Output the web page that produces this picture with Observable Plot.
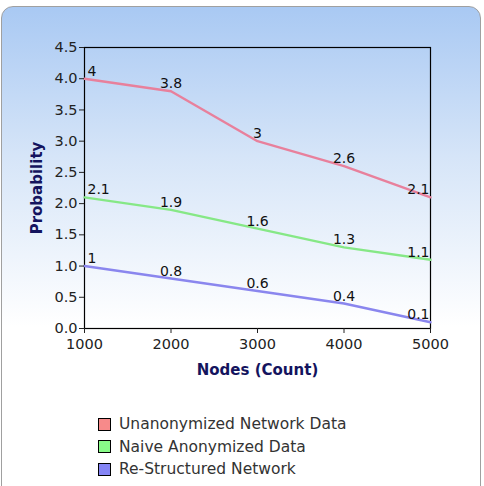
<!DOCTYPE html>
<html><head><meta charset="utf-8">
<script src="https://cdn.jsdelivr.net/npm/d3@7"></script>
<script src="https://cdn.jsdelivr.net/npm/@observablehq/plot@0.6"></script>
<style>
body{margin:0;width:484px;height:486px;overflow:hidden;background:#fff;font-family:"DejaVu Sans",sans-serif;}
#panel{position:absolute;left:1px;top:6px;width:478px;height:490px;border:1px solid #a0a0a0;border-radius:12px;
background:linear-gradient(to bottom,#a9c9f3 0px,#d6e5f8 150px,#ffffff 320px,#ffffff 100%);}
#chart{position:absolute;left:0;top:0;}
#legend{position:absolute;left:98px;top:413px;font-size:15.5px;color:#333;}
.item{display:flex;align-items:center;height:22.5px;}
.sw{width:11px;height:11px;border:1px solid #000;margin-right:8px;}
</style></head>
<body>
<div id="panel"></div>
<div id="chart"></div>
<div id="legend"></div>
<script>
const nodes = [1000, 2000, 3000, 4000, 5000];
const unanonymized = [4, 3.8, 3, 2.6, 2.1];
const naive = [2.1, 1.9, 1.6, 1.3, 1.1];
const restructured = [1, 0.8, 0.6, 0.4, 0.1];
const seriesNames = ["Unanonymized Network Data", "Naive Anonymized Data", "Re-Structured Network"];
const lineColors = ["#e8809c", "#86e886", "#8a86ee"];
const swatchColors = ["#f78a8a", "#88fb88", "#8585f5"];
const yTicks = [0, 0.5, 1, 1.5, 2, 2.5, 3, 3.5, 4, 4.5];

const seriesVals = [unanonymized, naive, restructured];
const data = seriesVals.flatMap((vals, s) => vals.map((v, i) => ({series: seriesNames[s], x: nodes[i], y: v, i})));

const marks = [
  Plot.frame({stroke: "#000", strokeWidth: 1.2}),
];
seriesNames.forEach((name, s) => {
  const d = data.filter(r => r.series === name);
  marks.push(Plot.line(d, {x: "x", y: "y", stroke: lineColors[s], strokeWidth: 2.4, curve: "linear", strokeLinejoin: "round"}));
  const common = {x: "x", y: "y", text: r => String(r.y), lineAnchor: "bottom", dy: -3, fill: "#111", fontSize: 14};
  marks.push(Plot.text(d.filter(r => r.i === 0), {...common, textAnchor: "start", dx: 3}));
  marks.push(Plot.text(d.filter(r => r.i > 0 && r.i < 4), {...common, textAnchor: "middle"}));
  marks.push(Plot.text(d.filter(r => r.i === 4), {...common, textAnchor: "end", dx: -1}));
});

const chart = Plot.plot({
  width: 484,
  height: 390,
  marginLeft: 84,
  marginRight: 54,
  marginTop: 47,
  marginBottom: 62,
  style: {background: "transparent", fontFamily: "DejaVu Sans, sans-serif", fontSize: "14px", color: "#222"},
  x: {domain: [1000, 5000], ticks: nodes, tickFormat: d => String(d), label: null, tickSize: 5},
  y: {domain: [0, 4.5], ticks: yTicks, tickFormat: d => d.toFixed(1), label: null, tickSize: 5},
  marks: [
    ...marks,
    Plot.axisX({ticks: nodes, tickFormat: d => String(d), tickSize: 5, tickPadding: 5, label: null, fontSize: 14.5}),
    Plot.axisY({ticks: yTicks, tickFormat: d => d.toFixed(1), tickSize: 5, tickPadding: 2, label: null, fontSize: 14.5}),
    Plot.text(["Nodes (Count)"], {frameAnchor: "bottom", lineAnchor: "middle", dy: 42, textAnchor: "middle", text: d => d, fontWeight: "bold", fontSize: 15, fill: "#14145e"}),
    Plot.text(["Probability"], {frameAnchor: "left", textAnchor: "middle", lineAnchor: "middle", dx: -47, rotate: -90, text: d => d, fontWeight: "bold", fontSize: 15, fill: "#14145e"})
  ]
});
document.getElementById("chart").appendChild(chart);

const legend = document.getElementById("legend");
seriesNames.forEach((name, s) => {
  const it = document.createElement("div");
  it.className = "item";
  it.innerHTML = `<div class="sw" style="background:${swatchColors[s]}"></div><span>${name}</span>`;
  legend.appendChild(it);
});
</script>
</body></html>
